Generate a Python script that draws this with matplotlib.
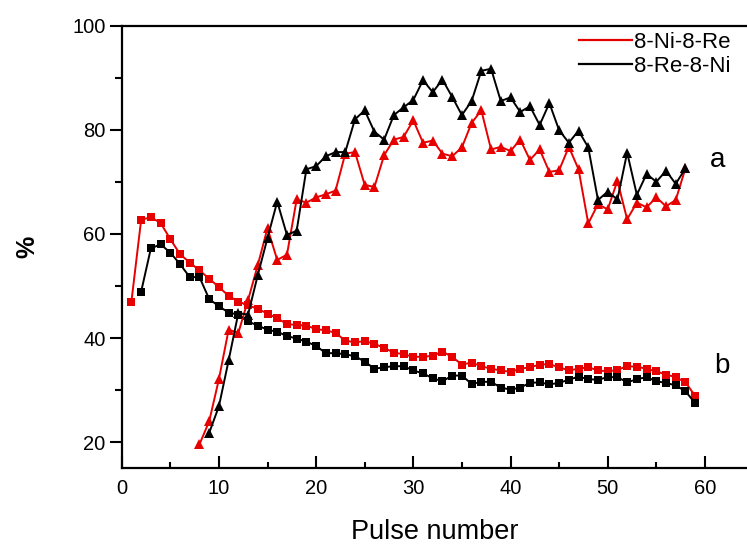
import matplotlib
matplotlib.use("Agg")
import matplotlib.pyplot as plt
from matplotlib.ticker import MultipleLocator

plt.rcParams['font.family'] = ['Liberation Sans', 'DejaVu Sans']

# ---- data ----
x_sq_red = list(range(1, 60))
y_sq_red = [47.0, 62.7, 63.2, 62.1, 59.0, 56.1, 54.5, 53.0, 51.4, 49.8,
            48.1, 47.0, 46.3, 45.6, 44.7, 43.8, 42.7, 42.5, 42.4, 41.7,
            41.5, 41.0, 39.5, 39.2, 39.4, 38.9, 38.1, 37.2, 36.9, 36.4,
            36.4, 36.6, 37.4, 36.4, 34.9, 35.3, 34.6, 34.1, 33.8, 33.5,
            34.1, 34.4, 34.9, 35.0, 34.4, 33.8, 34.1, 34.4, 33.8, 33.6,
            33.9, 34.6, 34.5, 34.1, 33.6, 33.0, 32.5, 31.5, 28.9]

x_sq_black = list(range(2, 60))
y_sq_black = [48.9, 57.2, 58.0, 56.4, 54.2, 51.7, 51.7, 47.5, 46.1,
              44.9, 44.5, 43.2, 42.4, 41.6, 41.2, 40.4, 39.9, 39.3, 38.5,
              37.1, 37.1, 36.9, 36.5, 35.5, 34.1, 34.4, 34.6, 34.6, 33.8,
              33.2, 32.3, 31.7, 32.8, 32.8, 31.2, 31.6, 31.6, 30.5, 30.1,
              30.5, 31.4, 31.5, 31.1, 31.4, 32.0, 32.6, 32.1, 32.0, 32.5,
              32.5, 31.5, 32.1, 32.5, 31.7, 31.4, 30.9, 29.8, 27.5]

x_tri_red = list(range(8, 59))
y_tri_red = [19.6, 24.0, 32.1, 41.6, 41.0, 47.3, 54.0, 61.1, 55.0, 56.0,
             66.6, 66.0, 67.0, 67.6, 68.3, 75.4, 75.7, 69.4, 69.0, 75.1,
             78.1, 78.6, 81.8, 77.5, 77.9, 75.4, 74.9, 76.6, 81.3, 83.7,
             76.2, 76.7, 75.9, 78.1, 74.2, 76.2, 71.9, 72.2, 76.7, 72.4,
             62.0, 65.7, 64.7, 70.2, 62.8, 66.0, 65.1, 67.0, 65.3, 66.5,
             72.6]

x_tri_black = list(range(9, 59))
y_tri_black = [21.8, 26.9, 35.7, 44.8, 44.5, 52.1, 59.2, 66.2, 59.8, 60.6,
               72.4, 73.0, 74.9, 75.7, 75.7, 82.0, 83.7, 79.6, 78.1, 82.8,
               84.3, 85.7, 89.5, 87.2, 89.6, 86.3, 82.8, 85.5, 91.3, 91.7,
               85.5, 86.2, 83.4, 84.5, 80.9, 85.1, 79.9, 77.5, 79.8, 76.6,
               66.5, 68.1, 66.6, 75.6, 67.5, 71.5, 70.0, 72.1, 69.6, 72.6]

labels = ["8-Ni-8-Re", "8-Re-8-Ni"]
RED = "#e60000"
BLACK = "#000000"

fig = plt.figure(figsize=(7.47, 5.46), dpi=100)
ax = fig.add_axes([121.7 / 747, 1 - 468.3 / 546, 1 - 121.7 / 747, (468.3 - 25.5) / 546])

lw = 1.4
ax.plot(x_sq_red, y_sq_red, color=RED, lw=lw, marker='s', ms=5.8, mew=0)
ax.plot(x_sq_black, y_sq_black, color=BLACK, lw=lw, marker='s', ms=5.8, mew=0)
ax.plot(x_tri_red, y_tri_red, color=RED, lw=lw, marker='^', ms=7.3, mew=0)
ax.plot(x_tri_black, y_tri_black, color=BLACK, lw=lw, marker='^', ms=7.3, mew=0)

# legend handles (lines only)
h1, = ax.plot([], [], color=RED, lw=1.6)
h2, = ax.plot([], [], color=BLACK, lw=1.6)
ax.legend([h1, h2], labels, loc='upper right', bbox_to_anchor=(730 / 747, 1 - 32 / 546),
          bbox_transform=fig.transFigure, frameon=False, fontsize=16,
          handlelength=2.4, handletextpad=0.05, borderpad=0, borderaxespad=0,
          labelspacing=0.12)

ax.set_xlim(0, 625.3 / 9.72)
ax.set_ylim(15, 100)
ax.xaxis.set_major_locator(MultipleLocator(10))
ax.xaxis.set_minor_locator(MultipleLocator(5))
ax.yaxis.set_minor_locator(MultipleLocator(10))
ax.set_yticks([20, 40, 60, 80, 100])

ax.tick_params(axis='x', which='major', direction='in', length=8.5, width=1.5, labelsize=14.5, pad=8)
ax.tick_params(axis='x', which='minor', direction='in', length=4, width=1.5)
ax.tick_params(axis='y', which='major', direction='out', length=8.5, width=1.5, labelsize=14.5, pad=3)
ax.tick_params(axis='y', which='minor', direction='out', length=5, width=1.5)

for s in ['left', 'bottom', 'top']:
    ax.spines[s].set_linewidth(1.6)
ax.spines['right'].set_visible(False)

ax.set_xlabel("Pulse number", fontsize=19.5, labelpad=15)
ax.set_ylabel("%", fontsize=18, fontweight='bold', labelpad=24)

ax.text(60.5, 74.2, "a", fontsize=20, va='center', ha='left')
ax.text(61.0, 34.6, "b", fontsize=20, va='center', ha='left')

fig.savefig("out.png", dpi=100)
